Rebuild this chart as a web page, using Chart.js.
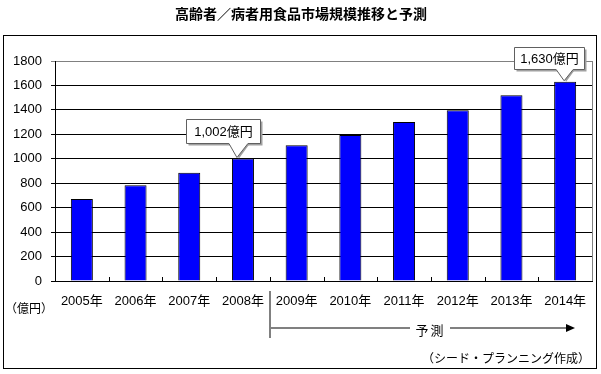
<!DOCTYPE html>
<html>
<head>
<meta charset="utf-8">
<script src="https://cdn.jsdelivr.net/npm/chart.js@4"></script>
<style>
  html, body { margin: 0; padding: 0; background: #fff; }
  canvas { display: block; }
</style>
</head>
<body>
<canvas id="marketChart" width="601" height="374"></canvas>
<script>
// data
const years = ['2005年', '2006年', '2007年', '2008年', '2009年', '2010年', '2011年', '2012年', '2013年', '2014年'];
const marketSize = [670, 783, 886, 1002, 1111, 1195, 1300, 1398, 1520, 1630];
const calloutIndex = [3, 9];
const calloutText = ['1,002億円', '1,630億円'];
const forecastStart = 4; // 2009年から予測

const FONT = '"Liberation Sans", "Noto Sans CJK JP", sans-serif';
const JP = '"Noto Sans CJK JP", sans-serif';

// callout box placement relative to the bar top
const calloutStyle = [
  { dx: -20, gap: 16, w: 74, h: 24, left: -14, right: 5, tip: -6 },
  { dx: -16, gap: 13, w: 70, h: 22, left: -9, right: 8, tip: -1 },
];

const decorPlugin = {
  id: 'decor',
  beforeDraw(chart) {
    const ctx = chart.ctx;
    ctx.save();
    ctx.fillStyle = '#fff';
    ctx.fillRect(0, 0, chart.width, chart.height);
    ctx.restore();
  },
  afterDraw(chart) {
    const ctx = chart.ctx;
    const area = chart.chartArea;
    const x = chart.scales.x;
    ctx.save();

    // outer frame
    ctx.strokeStyle = '#000';
    ctx.lineWidth = 1;
    ctx.strokeRect(3.5, 35.5, 593, 333);

    // title
    ctx.fillStyle = '#000';
    ctx.font = 'bold 14px ' + JP;
    ctx.textAlign = 'center';
    ctx.textBaseline = 'middle';
    ctx.fillText('高齢者／病者用食品市場規模推移と予測', 301, 14);

    // right border of plot area
    ctx.strokeStyle = '#808080';
    ctx.beginPath();
    ctx.moveTo(Math.round(area.right) + 0.5, area.top);
    ctx.lineTo(Math.round(area.right) + 0.5, area.bottom);
    ctx.stroke();

    // small inward ticks between categories
    ctx.strokeStyle = '#000';
    ctx.beginPath();
    for (let i = 0; i < years.length - 1; i++) {
      const bx = Math.round((x.getPixelForValue(i) + x.getPixelForValue(i + 1)) / 2) + 0.5;
      ctx.moveTo(bx, area.bottom);
      ctx.lineTo(bx, area.bottom - 4);
    }
    ctx.stroke();

    // unit label
    ctx.font = '12px ' + JP;
    ctx.textAlign = 'left';
    ctx.fillText('（億円）', 5, 308);

    // forecast arrow
    const fx = Math.round((x.getPixelForValue(forecastStart - 1) + x.getPixelForValue(forecastStart)) / 2);
    const ay = 328;
    ctx.strokeStyle = '#808080';
    ctx.lineWidth = 2;
    ctx.beginPath();
    ctx.moveTo(fx, 291);
    ctx.lineTo(fx, 338);
    ctx.moveTo(fx, ay);
    ctx.lineTo(410, ay);
    ctx.moveTo(450, ay);
    ctx.lineTo(567, ay);
    ctx.stroke();
    ctx.fillStyle = '#000';
    ctx.beginPath();
    ctx.moveTo(566, ay - 4);
    ctx.lineTo(575, ay);
    ctx.lineTo(566, ay + 4);
    ctx.closePath();
    ctx.fill();

    ctx.font = '13px ' + JP;
    ctx.textAlign = 'center';
    ctx.fillText('予', 422, 330);
    ctx.fillText('測', 437, 330);

    // source
    ctx.font = '12px ' + JP;
    ctx.textAlign = 'right';
    ctx.fillText('（シード・プランニング作成）', 590, 358);

    // callouts
    const meta = chart.getDatasetMeta(0);
    calloutIndex.forEach((idx, k) => {
      const bar = meta.data[idx];
      const s = calloutStyle[k];
      const bx = Math.round(bar.x + s.dx - s.w / 2) + 0.5;
      const by = Math.round(bar.y - s.gap - s.h) + 0.5;
      const tipX = bar.x + s.tip;
      const tipY = bar.y - 1;
      // shadow
      ctx.fillStyle = '#a0a0a0';
      ctx.fillRect(bx + 2, by + 2, s.w, s.h);
      ctx.beginPath();
      ctx.moveTo(bar.x + s.left + 2, by + s.h);
      ctx.lineTo(tipX + 2, tipY + 1);
      ctx.lineTo(bar.x + s.right + 2, by + s.h);
      ctx.fill();
      // box with pointer
      ctx.fillStyle = '#fff';
      ctx.strokeStyle = '#606060';
      ctx.lineWidth = 1;
      ctx.beginPath();
      ctx.moveTo(bx, by);
      ctx.lineTo(bx + s.w, by);
      ctx.lineTo(bx + s.w, by + s.h);
      ctx.lineTo(bar.x + s.right, by + s.h);
      ctx.lineTo(tipX, tipY);
      ctx.lineTo(bar.x + s.left, by + s.h);
      ctx.lineTo(bx, by + s.h);
      ctx.closePath();
      ctx.fill();
      ctx.stroke();
      ctx.fillStyle = '#000';
      ctx.font = '13px ' + FONT;
      ctx.textAlign = 'center';
      ctx.textBaseline = 'middle';
      ctx.fillText(calloutText[k], bx + s.w / 2, by + s.h / 2 + 1);
    });

    ctx.restore();
  }
};

new Chart(document.getElementById('marketChart'), {
  type: 'bar',
  data: {
    labels: years,
    datasets: [{
      data: marketSize,
      backgroundColor: '#0000FF',
      borderColor: '#000',
      borderWidth: 1,
      barPercentage: 0.41,
      categoryPercentage: 1,
    }],
  },
  options: {
    responsive: false,
    animation: false,
    layout: { padding: { top: 61, right: 9, left: 0, bottom: 0 } },
    plugins: {
      legend: { display: false },
      tooltip: { enabled: false },
    },
    scales: {
      x: {
        afterFit: (scale) => { scale.height = 93; },
        grid: { drawOnChartArea: false, drawTicks: false, color: 'transparent' },
        border: { color: '#000', width: 1 },
        ticks: { color: '#000', padding: 13, font: { family: FONT, size: 13 }, maxRotation: 0 },
      },
      y: {
        min: 0,
        max: 1800,
        afterFit: (scale) => { scale.width = 55; },
        ticks: {
          stepSize: 200,
          color: '#000',
          padding: 9,
          font: { family: FONT, size: 13 },
          callback: (v) => String(v),
        },
        grid: {
          color: (c) => (c.tick && c.tick.value === 1800 ? '#808080' : '#000'),
          tickLength: 4,
          lineWidth: 1,
        },
        border: { color: '#000', width: 1 },
      },
    },
  },
  plugins: [decorPlugin],
});
</script>
</body>
</html>
